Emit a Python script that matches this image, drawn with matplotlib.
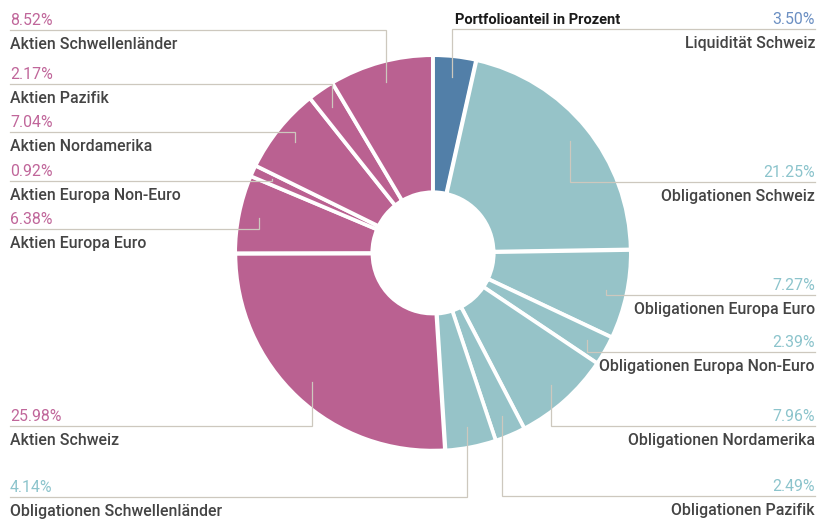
import matplotlib.pyplot as plt
import numpy as np

plt.rcParams['font.family'] = ['Roboto', 'DejaVu Sans']

# data (clockwise from 12 o'clock)
categories = ['Liquidität Schweiz', 'Obligationen Schweiz', 'Obligationen Europa Euro',
              'Obligationen Europa Non-Euro', 'Obligationen Nordamerika', 'Obligationen Pazifik',
              'Obligationen Schwellenländer', 'Aktien Schweiz', 'Aktien Europa Euro',
              'Aktien Europa Non-Euro', 'Aktien Nordamerika', 'Aktien Pazifik',
              'Aktien Schwellenländer']
values = [3.50, 21.25, 7.27, 2.39, 7.96, 2.49, 4.14, 25.98, 6.38, 0.92, 7.04, 2.17, 8.52]
groups = ['liq', 'obl', 'obl', 'obl', 'obl', 'obl', 'obl',
          'akt', 'akt', 'akt', 'akt', 'akt', 'akt']

# styles / layout
W, H = 829, 519
fill = {'liq': '#527fa8', 'obl': '#96c3c8', 'akt': '#ba6191'}
pct_col = {'liq': '#6b8fc2', 'obl': '#8cc4cc', 'akt': '#c0669a'}
name_col = '#444444'
line_col = '#cdc8be'
cx, cy, R, r_in = 433, H - 253, 197, 60
# label side and y of the leader line (pixels from top)
side = ['r', 'r', 'r', 'r', 'r', 'r', 'l', 'l', 'l', 'l', 'l', 'l', 'l']
line_y = [29, 182, 295, 352, 426, 496, 497, 426, 229, 181, 132, 84, 30]
x_left, x_right = 10, 815

fig = plt.figure(figsize=(W / 100, H / 100), dpi=100)
ax = fig.add_axes([0, 0, 1, 1])

wedges, _ = ax.pie(values, colors=[fill[g] for g in groups], startangle=90,
                   counterclock=False, center=(cx, cy), radius=R,
                   explode=[0.8] * len(values),
                   wedgeprops=dict(width=R - r_in, edgecolor='white', linewidth=2.6))
ax.set_xlim(0, W)
ax.set_ylim(0, H)
ax.set_aspect('auto')
ax.axis('off')

for i, w in enumerate(wedges):
    mid = np.deg2rad((w.theta1 + w.theta2) / 2)
    ra = 0.9 * R
    axp = cx + ra * np.cos(mid)
    ayp = cy + ra * np.sin(mid)
    ly = H - line_y[i]
    if side[i] == 'l':
        xs, ha = x_left, 'left'
    else:
        xs, ha = x_right, 'right'
    ax.plot([xs, axp, axp], [ly, ly, ayp], color=line_col, lw=0.9,
            solid_joinstyle='miter', zorder=3)
    ax.text(xs, ly + 5, f'{values[i]:.2f}%', ha=ha, va='baseline',
            fontsize=11.4, color=pct_col[groups[i]])
    ax.text(xs, ly - 19, categories[i], ha=ha, va='baseline',
            fontsize=11.4, color=name_col, fontweight='medium')

ax.text(455, H - 24, 'Portfolioanteil in Prozent', ha='left', va='baseline',
        fontsize=10.5, fontweight='bold', color='#1a1a1a')

fig.savefig('out.png', dpi=100)
